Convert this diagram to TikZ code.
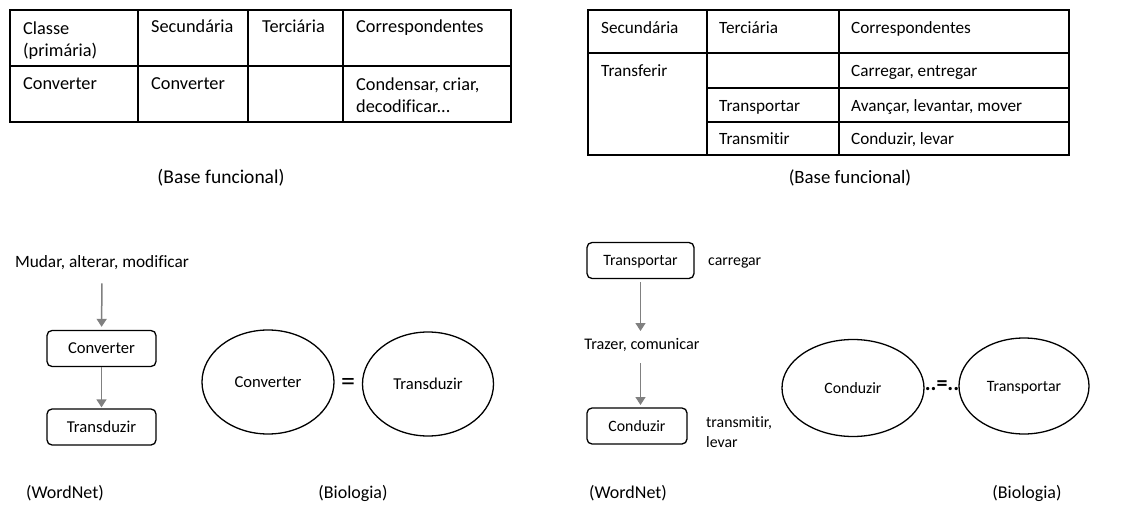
\documentclass[tikz,border=0pt]{standalone}
\usepackage{fontspec}
\setmainfont{Carlito}[Ligatures=NoCommon]
\usetikzlibrary{arrows.meta,shapes.geometric}

\begin{document}
\begin{tikzpicture}[x=1pt,y=-1pt,
  every node/.style={font=\fontsize{17.3}{21}\selectfont, inner sep=0pt},
  tbl/.style={line width=1.4pt, black},
  cell/.style={anchor=west, text height=13pt, text depth=3pt},
  mcell/.style={anchor=north west, align=left},
  ltab/.style={font=\fontsize{18.3}{22}\selectfont},
  rtab/.style={font=\fontsize{17.2}{21}\selectfont},
  wbox/.style={draw, line width=1.3pt, rounded corners=5pt, minimum width=#1, minimum height=36pt,
               text height=12pt, text depth=2pt},
  oval/.style={draw, ellipse, line width=1.3pt, text height=12pt, text depth=2pt},
  lsz/.style={font=\fontsize{16.6}{20}\selectfont},
  rsz/.style={font=\fontsize{15.8}{19}\selectfont},
  arr/.style={draw=black!50, line width=1.5pt, -{Triangle[width=10pt,length=8pt]}},
  caption/.style={anchor=center, font=\fontsize{18}{22}\selectfont}
]
\useasboundingbox (0,0) rectangle (1136,519);

% ---- classification table: Converter ----
\draw[tbl] (10,10) rectangle (511,122);
\draw[tbl] (10,66) -- (511,66);
\foreach \cx in {138,248,343} \draw[tbl] (\cx,10) -- (\cx,122);
\node[mcell, ltab] (lh1) at (23,21.5) {Classe\\(primária)};
\node[cell, ltab] (lh2) at (151,28) {Secundária};
\node[cell, ltab] (lh3) at (262,28) {Terciária};
\node[cell, ltab] (lh4) at (356,28) {Correspondentes};
\node[cell, ltab] (lr1) at (23,85) {Converter};
\node[cell, ltab] (lr2) at (151,85) {Converter};
\node[mcell, ltab] (lr4) at (356,78) {Condensar, criar,\\decodificar...};
\node[caption, font=\fontsize{19.5}{22}\selectfont] (lcap) at (221,178) {(Base funcional)};

% ---- classification table: Transferir ----
\draw[tbl] (588,10) rectangle (1069,155);
\draw[tbl] (588,53) -- (1069,53);
\draw[tbl] (707,88) -- (1069,88);
\draw[tbl] (707,122) -- (1069,122);
\draw[tbl] (707,10) -- (707,155);
\draw[tbl] (839,10) -- (839,155);
\node[cell, rtab] (rh1) at (601,29) {Secundária};
\node[cell, rtab] (rh2) at (719,29) {Terciária};
\node[cell, rtab] (rh3) at (851,29) {Correspondentes};
\node[cell, rtab] (rr1) at (601,72) {Transferir};
\node[cell, rtab] (rr1c) at (851,72) {Carregar, entregar};
\node[cell, rtab] (rr2) at (719,106) {Transportar};
\node[cell, rtab] (rr2c) at (851,106) {Avançar, levantar, mover};
\node[cell, rtab] (rr3) at (719,139) {Transmitir};
\node[cell, rtab] (rr3c) at (851,139) {Conduzir, levar};
\node[caption, font=\fontsize{18.8}{22}\selectfont] (rcap) at (850,178) {(Base funcional)};

% ---- WordNet chain: Converter ----
\node (mudar) at (102,263) {Mudar, alterar, modificar};
\node[wbox=109pt, lsz] (conv) at (101.5,348.5) {Converter};
\node[wbox=109pt, lsz] (trans) at (101.5,427) {Transduzir};
\draw[arr, shorten <=13pt, shorten >=3pt] (mudar) -- (conv);
\draw[arr, shorten >=1pt] (conv) -- (trans);

% ---- Biologia: Converter = Transduzir ----
\node[oval, lsz, minimum width=132pt, minimum height=104pt] (ecv) at (268,382) {Converter};
\node[oval, lsz, minimum width=131pt, minimum height=104pt] (etr) at (428,384) {Transduzir};
\node[font=\fontsize{28}{28}\selectfont] (eq) at (348,384) {=};

% ---- WordNet chain: Transportar ----
\node[wbox=107pt, rsz] (tp) at (640.5,260.5) {Transportar};
\node[anchor=west, rsz] (carr) at (708,263) {carregar};
\node[font=\fontsize{16.2}{20}\selectfont] (trazer) at (642,345) {Trazer, comunicar};
\node[wbox=100pt, rsz] (cd) at (637,426) {Conduzir};
\node[anchor=west, align=left, font=\fontsize{15.8}{20}\selectfont] (tml) at (706,432) {transmitir,\\levar};
\draw[arr, shorten <=3pt, shorten >=14pt] (tp) -- (tp |- trazer);
\draw[arr, shorten <=18pt, shorten >=21pt] (trazer -| tp) -- (cd -| tp);

% ---- Biologia: Conduzir ..=.. Transportar ----
\node[oval, rsz, minimum width=142pt, minimum height=97pt] (ecd) at (853,388) {Conduzir};
\node[oval, rsz, minimum width=130pt, minimum height=96pt] (etp) at (1024,386) {Transportar};
\node[font=\fontsize{22}{22}\selectfont\bfseries] (deq) at (942,386) {..=..};

% ---- source labels ----
\node[caption] (wn1) at (65,493) {(WordNet)};
\node[caption] (bio1) at (353,493) {(Biologia)};
\node[caption] (wn2) at (628,493) {(WordNet)};
\node[caption] (bio2) at (1027,493) {(Biologia)};
\end{tikzpicture}
\end{document}
